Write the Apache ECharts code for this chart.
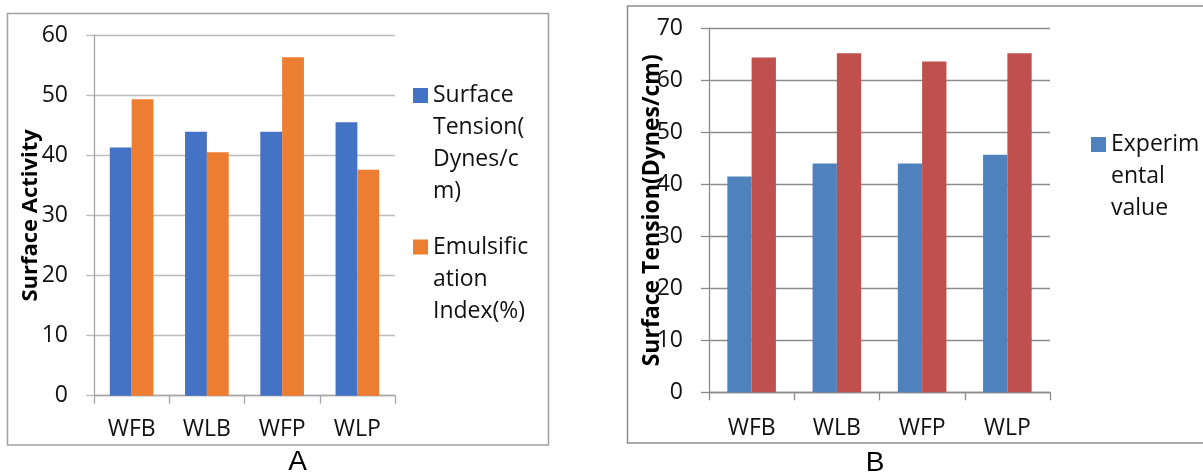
<!DOCTYPE html>
<html>
<head>
<meta charset="utf-8">
<script src="https://cdn.jsdelivr.net/npm/echarts@6/dist/echarts.min.js"></script>
<style>
html,body{margin:0;padding:0;background:#fff;}
#chart{width:1203px;height:474px;}
</style>
</head>
<body>
<div id="chart"></div>
<script>
// ---- data ----
const categories = ['WFB', 'WLB', 'WFP', 'WLP'];
const surfaceTensionA = [41.3, 43.9, 43.9, 45.5];
const emulsificationA = [49.3, 40.5, 56.3, 37.6];
const experimentalB = [41.5, 44.0, 44.0, 45.7];
const theoreticalB = [64.4, 65.2, 63.6, 65.2];
const seriesNamesA = ['Surface Tension(Dynes/cm)', 'Emulsification Index(%)'];
const seriesNamesB = ['Experimental value', 'Theoretical value'];
const legendTextWrapped = {
  'Surface Tension(Dynes/cm)': 'Surface\nTension(\nDynes/c\nm)',
  'Emulsification Index(%)': 'Emulsific\nation\nIndex(%)',
  'Experimental value': 'Experim\nental\nvalue'
};
const yTitleA = 'Surface Activity';
const yTitleB = 'Surface Tension(Dynes/cm)';
const panelLabels = ['A', 'B'];

const FONT = '"Open Sans", sans-serif';
const FS = 23;
const LH = 32;
const chart = echarts.init(document.getElementById('chart'), null, {renderer: 'canvas'});

const gridA = {left: 94, top: 35, width: 301, height: 360.7};
const gridB = {left: 709, top: 28.3, width: 341, height: 364};

function xAxisCfg(gridIndex, color, margin) {
  return {
    type: 'category', gridIndex: gridIndex, data: categories,
    axisLine: {lineStyle: {color: color, width: 1.3}},
    axisTick: {show: true, length: 8, lineStyle: {color: color, width: 1.3}},
    axisLabel: {fontFamily: FONT, fontSize: FS, color: '#111', margin: margin}
  };
}
function yAxisCfg(gridIndex, max, color, gridColor, name, nameSize, nameGap) {
  return {
    type: 'value', gridIndex: gridIndex, min: 0, max: max, interval: 10,
    name: name, nameLocation: 'middle', nameGap: nameGap, nameRotate: 90,
    nameMoveOverlap: false,
    nameTextStyle: {fontFamily: FONT, fontSize: nameSize, fontWeight: 'bold', color: '#000'},
    axisLine: {show: true, lineStyle: {color: color, width: 1.3}},
    axisTick: {show: true, length: 8, lineStyle: {color: gridColor, width: 1.3}},
    splitLine: {show: true, lineStyle: {color: gridColor, width: 1.3}},
    axisLabel: {fontFamily: FONT, fontSize: FS, color: '#111', margin: 26}
  };
}
// legend text is vertically centred on the icon; blank lines in front put the
// first wrapped line level with the icon
function legendLabel(name) {
  const t = legendTextWrapped[name];
  const n = t.split('\n').length;
  return '\n'.repeat(n - 1) + t;
}

const option = {
  animation: false,
  backgroundColor: '#fff',
  grid: [
    Object.assign({outerBoundsMode: 'none'}, gridA),
    Object.assign({outerBoundsMode: 'none'}, gridB)
  ],
  xAxis: [xAxisCfg(0, '#a6a6a6', 22), xAxisCfg(1, '#8c8c8c', 25)],
  yAxis: [
    yAxisCfg(0, 60, '#a6a6a6', '#bdbdbd', yTitleA, 22, 52),
    yAxisCfg(1, 70, '#8c8c8c', '#8c8c8c', yTitleB, 23, 45)
  ],
  legend: [
    {
      data: seriesNamesA, orient: 'vertical', left: 413, top: -16.5, padding: 0,
      itemWidth: 15, itemHeight: 15, itemGap: -40.5, icon: 'rect',
      formatter: legendLabel,
      textStyle: {fontFamily: FONT, fontSize: FS, color: '#111', lineHeight: LH}
    },
    {
      data: [seriesNamesB[0]], orient: 'vertical', left: 1091, top: 64.5, padding: 0,
      itemWidth: 15, itemHeight: 15, icon: 'rect',
      formatter: legendLabel,
      textStyle: {fontFamily: FONT, fontSize: FS, color: '#111', lineHeight: LH}
    }
  ],
  series: [
    {name: seriesNamesA[0], type: 'bar', xAxisIndex: 0, yAxisIndex: 0, data: surfaceTensionA,
     itemStyle: {color: '#4472C4'}, barGap: '0%', barCategoryGap: '42%'},
    {name: seriesNamesA[1], type: 'bar', xAxisIndex: 0, yAxisIndex: 0, data: emulsificationA,
     itemStyle: {color: '#ED7D31'}, barGap: '0%', barCategoryGap: '42%'},
    {name: seriesNamesB[0], type: 'bar', xAxisIndex: 1, yAxisIndex: 1, data: experimentalB,
     itemStyle: {color: '#4F81BD'}, barGap: '0%', barCategoryGap: '43%'},
    {name: seriesNamesB[1], type: 'bar', xAxisIndex: 1, yAxisIndex: 1, data: theoreticalB,
     itemStyle: {color: '#C0504D'}, barGap: '0%', barCategoryGap: '43%'}
  ],
  graphic: [
    {type: 'rect', silent: true, z: -1,
     shape: {x: 7.5, y: 13.5, width: 541, height: 431.5},
     style: {fill: null, stroke: '#a0a0a0', lineWidth: 1.5}},
    {type: 'rect', silent: true, z: -1,
     shape: {x: 627.5, y: 6, width: 600, height: 437},
     style: {fill: null, stroke: '#8f8f8f', lineWidth: 1.5}},
    {type: 'text', silent: true, x: 297.5, y: 462,
     style: {text: panelLabels[0], font: '28px "Liberation Sans", Arial, sans-serif', fill: '#000', textAlign: 'center', textVerticalAlign: 'middle'}},
    {type: 'text', silent: true, x: 875, y: 463,
     style: {text: panelLabels[1], font: '28px "Liberation Sans", Arial, sans-serif', fill: '#000', textAlign: 'center', textVerticalAlign: 'middle'}}
  ]
};
chart.setOption(option);
</script>
</body>
</html>
